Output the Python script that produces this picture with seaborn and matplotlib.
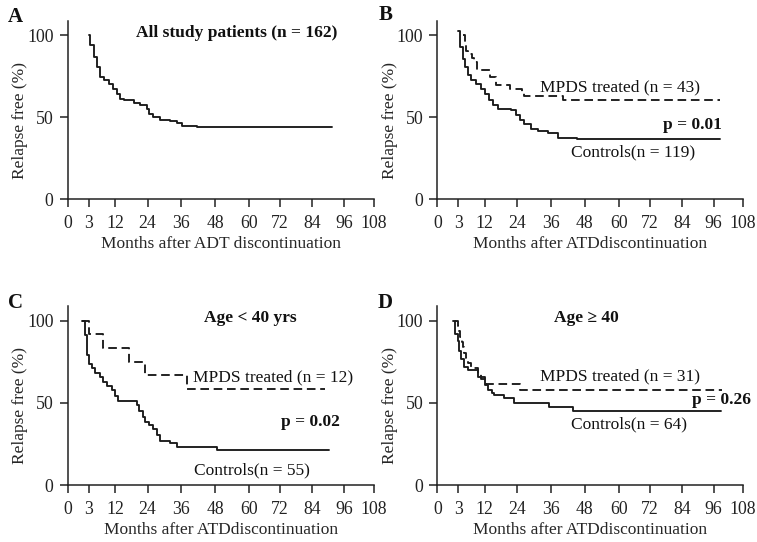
import numpy as np
import pandas as pd
import matplotlib
matplotlib.use("Agg")
import matplotlib.pyplot as plt
import seaborn as sns

# ---------------- data ----------------
tick_values = [0, 3, 12, 24, 36, 48, 60, 72, 84, 96, 108]
# relative visual spacing of the (non-linear) month axis in the original
tick_spacing = [0, 20.8, 47.5, 79.8, 113.5, 147.5, 181.5, 212.5, 244.5, 276.3, 305.8]

a_all_t = [3.0, 3.6, 4.7, 5.8, 6.9, 8.1, 9.8, 11.4, 12.6, 13.9, 15.1, 18.8, 21.3,
           23.8, 24.4, 26.1, 28.5, 32.1, 34.5, 36.2, 41.5, 91.5]
a_all_s = [100, 93.9, 86.8, 80.7, 74.6, 72.6, 70.6, 67.6, 64.5, 61.5, 60.4, 59.0, 57.4,
           55.4, 51.9, 50.3, 48.7, 47.8, 46.3, 44.6, 44.0, 44.0]

b_ctrl_t = [3.0, 3.8, 4.6, 5.4, 6.4, 7.5, 9.1, 10.8, 11.9, 13.7, 14.9, 16.8, 21.8,
            23.6, 24.9, 26.6, 29.0, 31.3, 34.9, 38.5, 45.4, 98.5]
b_ctrl_s = [103, 93.0, 85.8, 80.7, 75.6, 72.6, 70.6, 67.6, 64.5, 60.4, 57.4, 55.4, 54.3,
            51.7, 48.3, 45.8, 43.2, 41.8, 40.2, 37.7, 36.5, 36.5]
b_mpds_t = [4.6, 5.2, 5.8, 6.5, 7.7, 8.5, 9.5, 14.0, 16.0, 21.4, 25.7, 26.6, 40.3, 98.7]
b_mpds_s = [100, 95.3, 90.7, 88.4, 86.0, 83.7, 79.1, 74.4, 69.8, 67.4, 65.1, 62.8, 60.5, 60.5]

c_ctrl_t = [2.0, 2.5, 2.8, 3.0, 4.1, 5.2, 6.9, 8.0, 9.2, 10.9, 12.0, 13.2, 20.1, 21.0,
            22.3, 23.1, 24.4, 26.1, 27.3, 28.5, 32.1, 34.5, 48.6, 90.5]
c_ctrl_s = [100, 91.5, 79.3, 73.8, 71.1, 68.1, 66.0, 63.0, 60.4, 57.9, 54.3, 51.2, 48.8, 45.3,
            41.7, 38.6, 36.6, 34.0, 30.5, 27.0, 25.4, 23.4, 21.3, 21.3]
c_mpds_t = [2.0, 3.3, 8.0, 17.1, 23.1, 38.0, 89.0]
c_mpds_s = [100, 91.7, 83.3, 75.0, 66.7, 58.3, 58.3]

d_ctrl_t = [2.2, 2.6, 3.0, 3.4, 4.0, 4.9, 6.4, 9.6, 12.1, 13.1, 14.5, 15.6, 19.0, 23.0,
            35.5, 43.8, 99.0]
d_ctrl_s = [100, 92.2, 87.5, 81.3, 76.6, 71.9, 70.3, 65.6, 60.9, 57.8, 56.3, 54.7, 53.1, 50.0,
            47.7, 45.3, 45.3]
d_mpds_t = [2.5, 3.0, 3.4, 3.8, 4.3, 4.6, 5.0, 5.5, 6.5, 7.3, 9.6, 10.8, 12.3, 24.9, 99.5]
d_mpds_s = [100, 96.8, 93.5, 90.3, 87.1, 83.9, 80.6, 77.4, 74.2, 71.0, 67.7, 64.5, 61.3, 58.1, 58.1]

y_ticks = [0, 50, 100]

# ---------------- style ----------------
sns.set_style("ticks")
plt.rcParams["font.family"] = ["Liberation Serif", "DejaVu Serif"]
plt.rcParams["axes.linewidth"] = 1.1
plt.rcParams["xtick.major.width"] = 1.1
plt.rcParams["ytick.major.width"] = 1.1
plt.rcParams["xtick.major.size"] = 6
plt.rcParams["ytick.major.size"] = 6
plt.rcParams["axes.edgecolor"] = "#222222"

W, H = 757, 542
fig = plt.figure(figsize=(W / 100, H / 100), dpi=100)

fwd = lambda x: np.interp(x, tick_values, tick_spacing)
inv = lambda y: np.interp(y, tick_spacing, tick_values)

FS = 12.5
TICK_FS = 12.8
LINE = "#1a1a1a"


def make_ax(left_px, bottom_px, top_px):
    ax = fig.add_axes([left_px / W, (H - bottom_px) / H, 305.8 / W, (bottom_px - top_px) / H])
    return ax


def km(ax, t, s, dashed=False):
    df = pd.DataFrame({"t": t, "s": s})
    kw = dict(linestyle=(0, (4.6, 2.5))) if dashed else {}
    sns.lineplot(data=df, x="t", y="s", ax=ax, estimator=None, sort=False,
                 drawstyle="steps-post", color=LINE, linewidth=1.35, **kw)


def finish(ax, xlabel):
    ax.set_xscale("function", functions=(fwd, inv))
    ax.set_xlim(0, 108)
    ax.set_ylim(0, 109)
    ax.set_xticks(tick_values)
    ax.set_xticklabels([str(v) for v in tick_values], fontsize=TICK_FS)
    ax.set_yticks(y_ticks)
    ax.set_yticklabels([str(v) for v in y_ticks], fontsize=TICK_FS)
    ax.minorticks_off()
    ax.tick_params(axis="x", pad=5.2, colors="#222222")
    ax.tick_params(axis="y", pad=4.2, colors="#222222")
    sns.despine(ax=ax)
    ax.set_xlabel(xlabel, fontsize=FS)
    ax.set_ylabel("Relapse free (%)", fontsize=FS)
    ax.xaxis.set_label_coords(0.5, -0.25)
    ax.xaxis.label.set_va("center")
    ax.yaxis.set_label_coords(-0.155, 0.444)
    ax.yaxis.label.set_va("center")


axA = make_ax(67.7, 199.3, 20.7)
axB = make_ax(437.3, 199.3, 20.7)
axC = make_ax(67.7, 485, 306)
axD = make_ax(437.3, 485, 306)

km(axA, a_all_t, a_all_s)
km(axB, b_ctrl_t, b_ctrl_s)
km(axB, b_mpds_t, b_mpds_s, dashed=True)
km(axC, c_ctrl_t, c_ctrl_s)
km(axC, c_mpds_t, c_mpds_s, dashed=True)
km(axD, d_ctrl_t, d_ctrl_s)
km(axD, d_mpds_t, d_mpds_s, dashed=True)

finish(axA, "Months after ADT discontinuation")
finish(axB, "Months after ATDdiscontinuation")
finish(axC, "Months after ATDdiscontinuation")
finish(axD, "Months after ATDdiscontinuation")

T = dict(fontsize=FS, ha="center", va="center", color="#111111")
TB = dict(T, fontweight="bold")

axA.text(0.551, 0.931, "All study patients (n = 162)", transform=axA.transAxes, **TB)

axB.text(0.596, 0.627, "MPDS treated (n = 43)", transform=axB.transAxes, **T)
axB.text(0.835, 0.416, "p = 0.01", transform=axB.transAxes, **TB)
axB.text(0.641, 0.261, "Controls(n = 119)", transform=axB.transAxes, **T)

axC.text(0.597, 0.931, "Age < 40 yrs", transform=axC.transAxes, **TB)
axC.text(0.673, 0.602, "MPDS treated (n = 12)", transform=axC.transAxes, **T)
axC.text(0.793, 0.354, "p = 0.02", transform=axC.transAxes, **TB)
axC.text(0.604, 0.084, "Controls(n = 55)", transform=axC.transAxes, **T)

axD.text(0.487, 0.931, "Age \u2265 40", transform=axD.transAxes, **TB)
axD.text(0.596, 0.605, "MPDS treated (n = 31)", transform=axD.transAxes, **T)
axD.text(0.928, 0.475, "p = 0.26", transform=axD.transAxes, **TB)
axD.text(0.627, 0.341, "Controls(n = 64)", transform=axD.transAxes, **T)

P = dict(fontsize=15, fontweight="bold", ha="center", va="center", color="#111111")
fig.text(15.5 / W, 1 - 17 / H, "A", **P)
fig.text(386 / W, 1 - 15 / H, "B", **P)
fig.text(15.5 / W, 1 - 303.3 / H, "C", **P)
fig.text(385.5 / W, 1 - 303.3 / H, "D", **P)

fig.savefig("out.png", dpi=100)
